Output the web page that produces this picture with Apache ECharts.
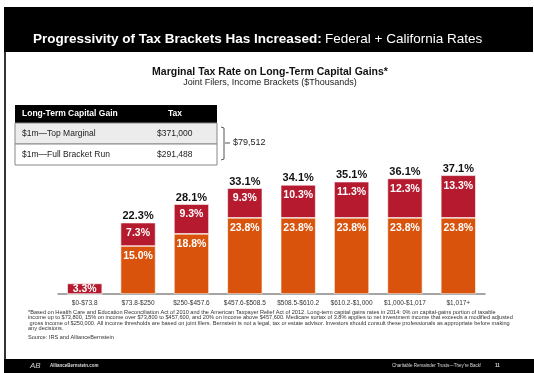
<!DOCTYPE html>
<html>
<head>
<meta charset="utf-8">
<script src="https://cdn.jsdelivr.net/npm/echarts@6/dist/echarts.min.js"></script>
<style>
  html, body { margin: 0; padding: 0; background: #fff; }
  #chart { width: 534px; height: 373px; }
</style>
</head>
<body>
<div id="chart"></div>
<script>
// income brackets, $ thousands (joint filers)
const brackets = ['$0-$73.8', '$73.8-$250', '$250-$457.6', '$457.6-$508.5', '$508.5-$610.2', '$610.2-$1,000', '$1,000-$1,017', '$1,017+']
// federal and california marginal rates on long-term gains, %
const federal = [0, 15.0, 18.8, 23.8, 23.8, 23.8, 23.8, 23.8]
const california = [3.3, 7.3, 9.3, 9.3, 10.3, 11.3, 12.3, 13.3]
const totals = [null, 22.3, 28.1, 33.1, 34.1, 35.1, 36.1, 37.1]

const tableRows = [
  ['$1m\u2014Top Marginal', '$371,000'],
  ['$1m\u2014Full Bracket Run', '$291,488']
]
const difference = '$79,512'

const footnote = '*Based on Health Care and Education Reconciliation Act of 2010 and the American Taxpayer Relief Act of 2012. Long-term capital gains rates in 2014: 0% on capital-gains portion of taxable income up to $73,800, 15% on income over $73,800 to $457,600, and 20% on income above $457,600. Medicare surtax of 3.8% applies to net investment income that exceeds a modified adjusted gross income of $250,000. All income thresholds are based on joint filers. Bernstein is not a legal, tax or estate advisor. Investors should consult these professionals as appropriate before making any decisions.'

const FONT = 'Liberation Sans, Arial, sans-serif'
const ORANGE = '#d9530c'
const RED = '#b51a2e'

const chart = echarts.init(document.getElementById('chart'), null, { renderer: 'canvas' })

const pct = (v) => v.toFixed(1) + '%'

const segLabel = {
  show: true,
  position: 'insideTop',
  distance: 5,
  color: '#fff',
  fontFamily: FONT,
  fontWeight: 'bold',
  fontSize: 10.5
}

// header, table, footnote
const graphics = [
  { type: 'rect', shape: { x: 4, y: 7, width: 529, height: 45 }, style: { fill: '#000' } },
  {
    type: 'text', x: 33, y: 39,
    style: {
      text: '{b|Progressivity of Tax Brackets Has Increased:} {r|Federal + California Rates}',
      verticalAlign: 'middle',
      rich: {
        b: { fill: '#fff', fontFamily: FONT, fontWeight: 'bold', fontSize: 13.5 },
        r: { fill: '#fff', fontFamily: FONT, fontSize: 13.5 }
      }
    }
  },
  // slide left border
  { type: 'rect', shape: { x: 4, y: 52, width: 2, height: 308 }, style: { fill: '#333' } },
  // footer bar
  { type: 'rect', shape: { x: 4, y: 359, width: 530, height: 14 }, style: { fill: '#000' } },
  { type: 'text', x: 30, y: 366, style: { text: 'AB', fill: '#ccc', font: 'italic 8px ' + FONT, verticalAlign: 'middle' } },
  { type: 'text', x: 50, y: 366, style: { text: 'AllianceBernstein.com', fill: '#ddd', font: 'bold 4.5px ' + FONT, verticalAlign: 'middle' } },
  { type: 'text', x: 392, y: 366, style: { text: "Charitable Remainder Trusts\u2014They're Back!", fill: '#ddd', font: '4.5px ' + FONT, verticalAlign: 'middle' } },
  { type: 'text', x: 495, y: 366, style: { text: '11', fill: '#ddd', font: 'bold 4.5px ' + FONT, verticalAlign: 'middle' } },
  // chart subtitle
  { type: 'text', x: 270, y: 72, style: { text: 'Marginal Tax Rate on Long-Term Capital Gains*', fill: '#111', font: 'bold 10.5px ' + FONT, align: 'center', verticalAlign: 'middle' } },
  { type: 'text', x: 270, y: 83, style: { text: 'Joint Filers, Income Brackets ($Thousands)', fill: '#222', font: '9px ' + FONT, align: 'center', verticalAlign: 'middle' } },
  // table header
  { type: 'rect', shape: { x: 15, y: 105, width: 202, height: 18 }, style: { fill: '#000' } },
  { type: 'text', x: 22, y: 114, style: { text: 'Long-Term Capital Gain', fill: '#fff', font: 'bold 8.5px ' + FONT, verticalAlign: 'middle' } },
  { type: 'text', x: 175, y: 114, style: { text: 'Tax', fill: '#fff', font: 'bold 8.5px ' + FONT, align: 'center', verticalAlign: 'middle' } },
  // bracket
  {
    type: 'polyline',
    shape: { points: [[221, 127], [224, 128], [224, 159], [221, 160]] },
    style: { stroke: '#555', lineWidth: 1, fill: null }
  },
  { type: 'line', shape: { x1: 225, y1: 143, x2: 230, y2: 143 }, style: { stroke: '#555', lineWidth: 1 } },
  { type: 'text', x: 233, y: 143, style: { text: difference, fill: '#222', font: '9px ' + FONT, verticalAlign: 'middle' } },
  // footnote
  {
    type: 'text', x: 28, y: 309.5,
    style: {
      text: footnote, width: 486, overflow: 'break', fill: '#333',
      font: '5.6px ' + FONT, lineHeight: 5.4
    }
  },
  { type: 'text', x: 28, y: 334, style: { text: 'Source: IRS and AllianceBernstein', fill: '#333', font: '5.6px ' + FONT } }
]

tableRows.forEach((row, i) => {
  const y = 123 + i * 21
  graphics.push(
    { type: 'rect', shape: { x: 15, y: y, width: 202, height: 21 }, style: { fill: i === 0 ? '#ececec' : '#fff', stroke: '#888', lineWidth: 1 } },
    { type: 'text', x: 22, y: y + 10.5, style: { text: row[0], fill: '#222', font: '8.5px ' + FONT, verticalAlign: 'middle' } },
    { type: 'text', x: 157, y: y + 10.5, style: { text: row[1], fill: '#222', font: '8.5px ' + FONT, verticalAlign: 'middle' } }
  )
})

chart.setOption({
  animation: false,
  backgroundColor: '#fff',
  graphic: graphics,
  grid: { left: 58, right: 49, top: 166, bottom: 79 },
  xAxis: {
    type: 'category',
    data: brackets,
    axisLine: { lineStyle: { color: '#888', width: 1.5 } },
    axisTick: { show: false },
    axisLabel: { color: '#333', fontFamily: FONT, fontSize: 6.5, margin: 6, interval: 0 }
  },
  yAxis: {
    type: 'value',
    min: 0,
    max: 40,
    show: false
  },
  series: [
    {
      name: 'Federal',
      type: 'bar',
      stack: 'rate',
      barWidth: 35,
      data: federal,
      itemStyle: { color: ORANGE, borderColor: '#fff', borderWidth: 0.6 },
      label: { ...segLabel, formatter: (p) => (p.value ? pct(p.value) : '') }
    },
    {
      name: 'California',
      type: 'bar',
      stack: 'rate',
      // the first bracket's bar is too short for an inside-top label, centre it
      data: california.map((v, i) => (i === 0 ? { value: v, label: { position: 'inside' } } : v)),
      itemStyle: { color: RED, borderColor: '#fff', borderWidth: 0.6 },
      label: { ...segLabel, formatter: (p) => pct(p.value) }
    },
    {
      name: 'Total',
      type: 'bar',
      stack: 'rate',
      data: totals.map(() => 0),
      itemStyle: { color: 'transparent' },
      label: {
        show: true,
        position: 'top',
        distance: 1,
        color: '#111',
        fontFamily: FONT,
        fontWeight: 'bold',
        fontSize: 11,
        formatter: (p) => (totals[p.dataIndex] == null ? '' : pct(totals[p.dataIndex]))
      }
    }
  ]
})
</script>
</body>
</html>
